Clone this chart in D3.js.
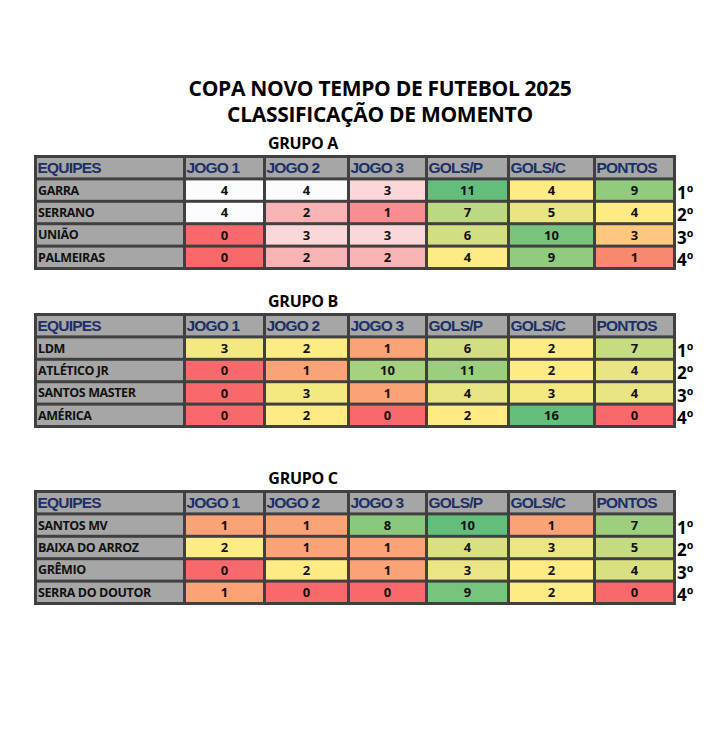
<!DOCTYPE html>
<meta charset="utf-8">
<head>
<title>Copa Novo Tempo de Futebol 2025</title>
<style>
  body { margin: 0; background: #fff; }
</style>
</head>
<svg width="706" height="744"></svg>
<script src="https://cdn.jsdelivr.net/npm/d3@7"></script>
<script>

var headers = ["EQUIPES", "JOGO 1", "JOGO 2", "JOGO 3", "GOLS/P", "GOLS/C", "PONTOS"];
var ranks = ["1º", "2º", "3º", "4º"];

var teamsA = ["GARRA", "SERRANO", "UNIÃO", "PALMEIRAS"];
var valuesA = [[4, 4, 3, 11, 4, 9], [4, 2, 1, 7, 5, 4], [0, 3, 3, 6, 10, 3], [0, 2, 2, 4, 9, 1]];
var teamsB = ["LDM", "ATLÉTICO JR", "SANTOS MASTER", "AMÉRICA"];
var valuesB = [[3, 2, 1, 6, 2, 7], [0, 1, 10, 11, 2, 4], [0, 3, 1, 4, 3, 4], [0, 2, 0, 2, 16, 0]];
var teamsC = ["SANTOS MV", "BAIXA DO ARROZ", "GRÊMIO", "SERRA DO DOUTOR"];
var valuesC = [[1, 1, 8, 10, 1, 7], [2, 1, 1, 4, 3, 5], [0, 2, 1, 3, 2, 4], [1, 0, 0, 9, 2, 0]];

var svg = d3.select("svg");
var colEdges = [34, 183, 263, 347, 425, 507, 593, 673];

var redYellowGreen = ["#f8696b", "#fba276", "#ffeb84", "#63be7b"];

function drawGroup(title, top, teams, values, colorFor) {
    var y = d3.scaleBand().domain(d3.range(5)).range([top, top + 112]).padding(0);
    svg.append("text")
        .attr("x", 303).attr("y", top - 6)
        .attr("text-anchor", "middle")
        .attr("font-family", "Open Sans").attr("font-weight", "bold").attr("font-size", "16px")
        .attr("letter-spacing", "-0.3px")
        .text(title);

    svg.append("rect")
        .attr("x", colEdges[0]).attr("y", top)
        .attr("width", colEdges[7] - colEdges[0] + 3).attr("height", 115)
        .attr("fill", "#404040");

    var rows = [headers].concat(teams.map(function(t, i) { return [t].concat(values[i]); }));
    rows.forEach(function(row, r) {
        row.forEach(function(v, c) {
            var x0 = colEdges[c] + 3, x1 = colEdges[c + 1];
            var fill = (r === 0 || c === 0) ? "#a6a6a6" : colorFor(c - 1, v);
            svg.append("rect")
                .attr("x", x0).attr("y", y(r) + 3)
                .attr("width", x1 - x0).attr("height", y.bandwidth() - 3)
                .attr("fill", fill);
            var t = svg.append("text")
                .attr("y", y(r) + 3 + (y.bandwidth() - 3) / 2)
                .attr("dy", "0.36em")
                .text(v);
            if (r === 0) {
                t.attr("x", x0 + 0.5).attr("font-family", "Liberation Sans")
                    .attr("font-weight", "bold").attr("font-size", "15.5px")
                    .attr("fill", "#1c2f66").attr("letter-spacing", "-0.8px");
            } else if (c === 0) {
                t.attr("x", x0 + 1).attr("font-family", "Open Sans")
                    .attr("font-weight", "bold").attr("font-size", "12.5px").attr("fill", "#111")
                    .attr("letter-spacing", "-0.4px");
            } else {
                t.attr("x", (x0 + x1) / 2).attr("text-anchor", "middle")
                    .attr("font-family", "Open Sans").attr("font-weight", "bold")
                    .attr("font-size", "13px").attr("fill", "#111");
            }
        });
    });

    ranks.forEach(function(rk, i) {
        svg.append("text")
            .attr("x", 677).attr("y", y(i + 1) + y.bandwidth() - 1)
            .attr("font-family", "Open Sans").attr("font-weight", "bold").attr("font-size", "17px")
            .text(rk);
    });
}

svg.append("text")
    .attr("x", 380).attr("y", 96).attr("text-anchor", "middle")
    .attr("font-family", "Open Sans").attr("font-weight", "bold").attr("font-size", "21px")
    .attr("letter-spacing", "-0.3px")
    .text("COPA NOVO TEMPO DE FUTEBOL 2025");
svg.append("text")
    .attr("x", 380).attr("y", 122).attr("text-anchor", "middle")
    .attr("font-family", "Open Sans").attr("font-weight", "bold").attr("font-size", "21px")
    .attr("letter-spacing", "-0.3px")
    .text("CLASSIFICAÇÃO DE MOMENTO");

var whiteRed = d3.scaleLinear().domain([0, 4]).range(["#f8696b", "#fcfcff"]);
var scaleA = d3.scaleLinear().domain([0, 3, 4, 11]).range(["#f8696b", "#fdc77e", "#ffeb84", "#63be7b"]);
drawGroup("GRUPO A", 155, teamsA, valuesA, function(c, v) {
    return c < 3 ? whiteRed(v) : scaleA(v);
});

var scaleB = d3.scaleLinear().domain([0, 1, 2, 16]).range(redYellowGreen);
drawGroup("GRUPO B", 313, teamsB, valuesB, function(c, v) { return scaleB(v); });

var scaleC = d3.scaleLinear().domain([0, 1, 2, 10]).range(redYellowGreen);
drawGroup("GRUPO C", 490, teamsC, valuesC, function(c, v) { return scaleC(v); });

</script>
